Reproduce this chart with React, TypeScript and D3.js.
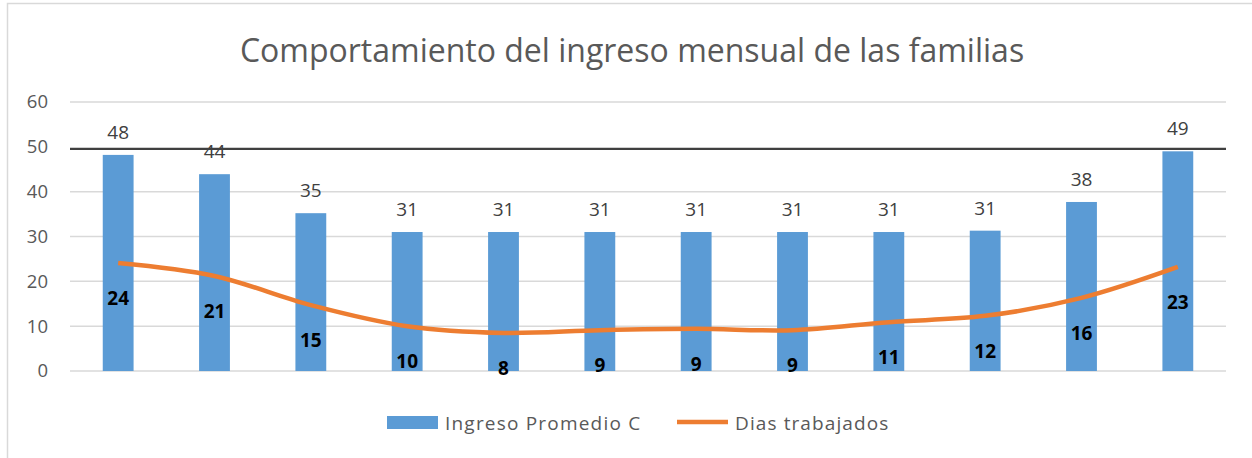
import React, { useRef, useEffect } from "react";
import * as d3 from "d3";

// chart data
const months = ["1", "2", "3", "4", "5", "6", "7", "8", "9", "10", "11", "12"];
const ingreso = [48.2, 43.9, 35.2, 31, 31, 31, 31, 31, 31, 31.3, 37.7, 49];
const ingresoLabels = ["48", "44", "35", "31", "31", "31", "31", "31", "31", "31", "38", "49"];
const dias = [24.1, 21.2, 14.7, 10, 8.5, 9.1, 9.4, 9.1, 10.9, 12.3, 16.3, 23.2];
const diasLabels = ["24", "21", "15", "10", "8", "9", "9", "9", "11", "12", "16", "23"];
const yTicks = [0, 10, 20, 30, 40, 50, 60];
const seriesNames = ["Ingreso Promedio C", "Dias trabajados"];
const title = "Comportamiento del ingreso mensual de las familias";

const W = 1252;
const H = 458;
const FONT = "Open Sans, Calibri, sans-serif";

const App = () => {
  const svgRef = useRef<SVGSVGElement>(null);

  useEffect(() => {
    const svg = d3.select(svgRef.current);
    svg.selectAll("*").remove();

    const margin = { top: 102, right: 26, bottom: 87, left: 70 };
    const innerW = W - margin.left - margin.right;
    const innerH = H - margin.top - margin.bottom;

    const x = d3.scaleBand().domain(months).range([0, innerW]).paddingInner(0.68).paddingOuter(0.34);
    const y = d3.scaleLinear().domain([0, 60]).range([innerH, 0]);

    // frame
    svg.append("rect").attr("width", W).attr("height", H).attr("fill", "#fff");
    svg
      .append("path")
      .attr("d", `M7.5,${H} L7.5,3.5 L${W},3.5`)
      .attr("fill", "none")
      .attr("stroke", "#d9d9d9")
      .attr("stroke-width", 1.5);

    svg
      .append("text")
      .attr("x", 632)
      .attr("y", 62)
      .attr("text-anchor", "middle")
      .attr("font-family", FONT)
      .attr("font-size", 32)
      .attr("fill", "#595959")
      .text(title);

    const g = svg.append("g").attr("transform", `translate(${margin.left},${margin.top})`);

    // grid + y labels
    g.selectAll(".grid")
      .data(yTicks)
      .enter()
      .append("line")
      .attr("x1", 0)
      .attr("x2", innerW)
      .attr("y1", (d) => y(d) + (d === 50 ? 2 : 0))
      .attr("y2", (d) => y(d) + (d === 50 ? 2 : 0))
      .attr("stroke", (d) => (d === 50 ? "#404040" : "#d9d9d9"))
      .attr("stroke-width", (d) => (d === 50 ? 2.2 : 1.5));

    g.selectAll(".ylab")
      .data(yTicks)
      .enter()
      .append("text")
      .attr("x", -22)
      .attr("y", (d) => y(d))
      .attr("dy", "0.35em")
      .attr("text-anchor", "end")
      .attr("font-family", FONT)
      .attr("font-size", 18.5)
      .attr("fill", "#595959")
      .text((d) => d);

    // bars
    g.selectAll(".bar")
      .data(ingreso)
      .enter()
      .append("rect")
      .attr("x", (d, i) => x(months[i]))
      .attr("y", (d) => y(d))
      .attr("width", x.bandwidth())
      .attr("height", (d) => innerH - y(d))
      .attr("fill", "#5b9bd5");

    g.selectAll(".barlab")
      .data(ingreso)
      .enter()
      .append("text")
      .attr("x", (d, i) => x(months[i]) + x.bandwidth() / 2)
      .attr("y", (d) => y(d) - 16)
      .attr("text-anchor", "middle")
      .attr("font-family", FONT)
      .attr("font-size", 19)
      .attr("fill", "#404040")
      .text((d, i) => ingresoLabels[i]);

    // line
    const line = d3
      .line<number>()
      .x((d, i) => x(months[i]) + x.bandwidth() / 2)
      .y((d) => y(d))
      .curve(d3.curveCatmullRom.alpha(0.5));

    g.append("path")
      .datum(dias)
      .attr("d", line)
      .attr("fill", "none")
      .attr("stroke", "#ed7d31")
      .attr("stroke-width", 4.5)
      .attr("stroke-linecap", "butt");

    g.selectAll(".linelab")
      .data(dias)
      .enter()
      .append("text")
      .attr("x", (d, i) => x(months[i]) + x.bandwidth() / 2)
      .attr("y", (d) => y(d) + 35)
      .attr("dy", "0.35em")
      .attr("text-anchor", "middle")
      .attr("font-family", FONT)
      .attr("font-weight", "bold")
      .attr("font-size", 19)
      .attr("fill", "#000")
      .text((d, i) => diasLabels[i]);

    // legend
    const lg = svg.append("g");
    lg.append("rect").attr("x", 387).attr("y", 416).attr("width", 51).attr("height", 13).attr("fill", "#5b9bd5");
    lg.append("text")
      .attr("x", 445)
      .attr("y", 423)
      .attr("dy", "0.35em")
      .attr("font-family", FONT)
      .attr("font-size", 19)
      .attr("letter-spacing", 1.2)
      .attr("fill", "#595959")
      .text(seriesNames[0]);
    lg.append("line")
      .attr("x1", 677)
      .attr("x2", 728)
      .attr("y1", 422)
      .attr("y2", 422)
      .attr("stroke", "#ed7d31")
      .attr("stroke-width", 4.5);
    lg.append("text")
      .attr("x", 735)
      .attr("y", 423)
      .attr("dy", "0.35em")
      .attr("font-family", FONT)
      .attr("font-size", 19)
      .attr("letter-spacing", 1.1)
      .attr("fill", "#595959")
      .text(seriesNames[1]);
  }, []);

  return (
    <svg
      ref={svgRef}
      width={W}
      height={H}
      style={{ position: "absolute", left: 0, top: 0 }}
    />
  );
};

export default App;
